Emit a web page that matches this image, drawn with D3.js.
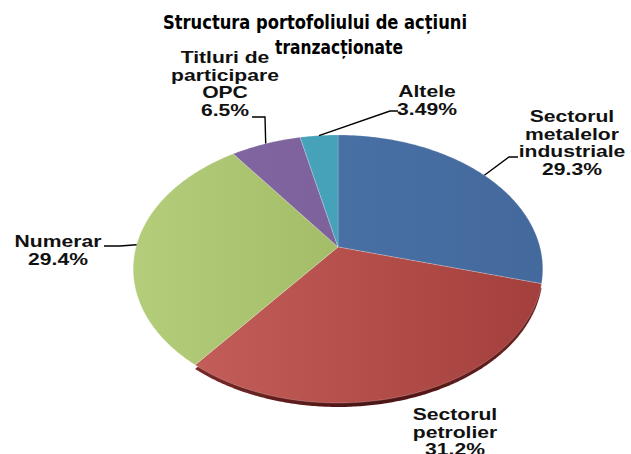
<!DOCTYPE html>
<html><head><meta charset="utf-8">
<script src="https://cdn.jsdelivr.net/npm/d3@7"></script>
<style>body{margin:0;background:#fff}svg{display:block}</style>
</head><body><svg id="c" width="631" height="454"></svg>
<script>
// ---- data ----
const titleLines = ["Structura portofoliului de acțiuni", "tranzacționate"];
const categories = ["Sectorul metalelor industriale", "Sectorul petrolier", "Numerar", "Titluri de participare OPC", "Altele"];
const nameLines = [["Sectorul", "metalelor", "industriale"], ["Sectorul", "petrolier"], ["Numerar"], ["Titluri de", "participare", "OPC"], ["Altele"]];
const values = [29.3, 31.2, 29.4, 6.5, 3.49];
const valueLabels = ["29.3%", "31.2%", "29.4%", "6.5%", "3.49%"];

// ---- styles / layout ----
const colorsLight = ["#4C77AD", "#C8625E", "#B4CD7B", "#8468A5", "#4BAAC2"];
const colorsDark  = ["#44699C", "#A33F3C", "#92AC54", "#765B92", "#3F99AF"];
const labelLayout = [
  {x: 572, y0: 122, elbow: [[509,157],[518,157]]},
  {x: 455, y0: 420, elbow: null},
  {x: 58,  y0: 247, elbow: [[120,246],[104,246]]},
  {x: 225, y0: 63,  elbow: [[265,117],[252,117]]},
  {x: 427, y0: 97,  elbow: [[390,111],[398,111]]}
];

const svg = d3.select("#c");
const cx = 338, cy = 247, A = 202, B = 130.4, P = 0.164;
const sx = d3.scaleLinear().domain([-1, 1]).range([cx - A, cx + A]);
const sy = d3.scaleLinear().domain([-1, 1]).range([cy - B, cy + B]);
function proj(a) {
  const u = Math.sin(a), v = -Math.cos(a);
  const k = 1 / (1 - P * v);
  return [cx + (sx(u) - cx) * k, cy + (sy(v) - cy) * k];
}
const pie = d3.pie().sort(null).value(d => d);
const arcs = pie(values);
function slicePts(d) {
  const pts = [[cx, cy]];
  const n = Math.max(8, Math.ceil((d.endAngle - d.startAngle) / 0.01));
  for (let i = 0; i <= n; i++) pts.push(proj(d.startAngle + (d.endAngle - d.startAngle) * i / n));
  return pts;
}
const line = d3.line().curve(d3.curveLinearClosed);

const defs = svg.append("defs");
arcs.forEach((d, i) => {
  const g = defs.append("linearGradient").attr("id", "g" + i)
    .attr("gradientUnits", "userSpaceOnUse").attr("x1", cx - A).attr("x2", cx + A).attr("y1", 0).attr("y2", 0);
  g.append("stop").attr("offset", "0%").attr("stop-color", colorsLight[i]);
  g.append("stop").attr("offset", "100%").attr("stop-color", colorsDark[i]);
});
const rg = defs.append("linearGradient").attr("id", "rim")
  .attr("gradientUnits", "userSpaceOnUse").attr("x1", 190).attr("x2", 545).attr("y1", 0).attr("y2", 0);
rg.append("stop").attr("offset", "0%").attr("stop-color", "#7a2a28");
rg.append("stop").attr("offset", "50%").attr("stop-color", "#4a1312");
rg.append("stop").attr("offset", "100%").attr("stop-color", "#6a2422");
defs.append("filter").attr("id", "blur").append("feGaussianBlur").attr("stdDeviation", 0.6);

// rim under the front slice
svg.append("path").attr("d", line(slicePts(arcs[1])))
  .attr("transform", "translate(0,4)").attr("fill", "url(#rim)").attr("filter", "url(#blur)");

svg.append("g").selectAll("path").data(arcs).join("path")
  .attr("d", d => line(slicePts(d)))
  .attr("fill", (d, i) => "url(#g" + i + ")")
  .attr("stroke", "#ffffff").attr("stroke-opacity", 0.35).attr("stroke-width", 0.6);

// leader lines
arcs.forEach((d, i) => {
  const L = labelLayout[i];
  if (!L.elbow) return;
  const p0 = proj((d.startAngle + d.endAngle) / 2);
  svg.append("path").attr("d", d3.line()([p0, ...L.elbow]))
    .attr("fill", "none").attr("stroke", "#000").attr("stroke-width", 1.4);
});

// labels
arcs.forEach((d, i) => {
  const L = labelLayout[i];
  const lines = nameLines[i].concat([valueLabels[i]]);
  const g = svg.append("g").attr("transform", `translate(${L.x},0) scale(1.32,1)`);
  g.selectAll("text").data(lines).join("text")
    .attr("x", 0).attr("y", (t, j) => L.y0 + j * 17.7)
    .attr("text-anchor", "middle")
    .attr("font-family", "'Liberation Sans', Arial, sans-serif")
    .attr("font-weight", "bold").attr("font-size", 16).attr("fill", "#111")
    .text(t => t);
});

// title
const tl = [{x: 163, y: 29, w: 304}, {x: 275, y: 54, w: 128}];
svg.selectAll("text.title").data(titleLines).join("text").attr("class", "title")
  .attr("x", (t, i) => tl[i].x).attr("y", (t, i) => tl[i].y)
  .attr("textLength", (t, i) => tl[i].w).attr("lengthAdjust", "spacingAndGlyphs")
  .attr("font-family", "'DejaVu Sans', sans-serif").attr("font-weight", 700)
  .attr("font-size", 19).attr("fill", "#000").text(t => t);
</script></body></html>
